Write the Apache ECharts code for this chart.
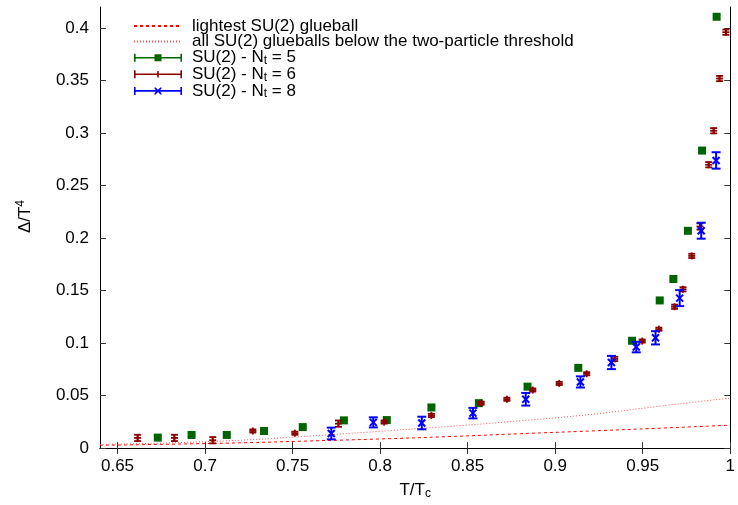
<!DOCTYPE html>
<html>
<head>
<meta charset="utf-8">
<script src="https://cdn.jsdelivr.net/npm/echarts@6/dist/echarts.min.js"></script>
<style>
html, body { margin: 0; padding: 0; background: #fff; }
#main { width: 738px; height: 505px; }
</style>
</head>
<body>
<div id="main"></div>
<script>
// T/Tc, Delta/T^4 and errors
const nt5T = [0.673, 0.6923, 0.7124, 0.7337, 0.7558, 0.7793, 0.8038, 0.8293, 0.8564, 0.8842, 0.9132, 0.9439, 0.9597, 0.9675, 0.9758, 0.9839, 0.9922]
const nt5D = [0.0100, 0.0125, 0.0125, 0.0163, 0.0200, 0.0264, 0.0267, 0.0387, 0.0428, 0.0585, 0.0764, 0.1022, 0.1406, 0.1610, 0.2069, 0.2833, 0.4107]
const nt5E = [0.001, 0.001, 0.001, 0.001, 0.001, 0.001, 0.001, 0.001, 0.001, 0.001, 0.001, 0.001, 0.0012, 0.0012, 0.0015, 0.0015, 0.0015]

const nt6T = [0.6615, 0.6825, 0.7044, 0.7273, 0.7513, 0.7762, 0.8023, 0.8293, 0.8577, 0.8724, 0.8872, 0.9023, 0.918, 0.934, 0.9497, 0.9592, 0.9682, 0.973, 0.978, 0.9827, 0.9877, 0.9905, 0.9939, 0.9975]
const nt6D = [0.0097, 0.0097, 0.0075, 0.0163, 0.0142, 0.0233, 0.0248, 0.0311, 0.0428, 0.0465, 0.0553, 0.0616, 0.0708, 0.0849, 0.1019, 0.1132, 0.1346, 0.1512, 0.1830, 0.2110, 0.2698, 0.3022, 0.3519, 0.3960]
const nt6E = [0.003, 0.003, 0.003, 0.0015, 0.0015, 0.003, 0.0015, 0.0015, 0.0015, 0.0015, 0.0015, 0.0015, 0.0015, 0.002, 0.0015, 0.0015, 0.002, 0.002, 0.002, 0.003, 0.0025, 0.0025, 0.0025, 0.0025]

const nt8T = [0.7721, 0.7961, 0.8238, 0.853, 0.8832, 0.9144, 0.9321, 0.9463, 0.9573, 0.9711, 0.9834, 0.9919]
const nt8D = [0.0139, 0.0245, 0.0239, 0.0333, 0.0465, 0.0630, 0.0815, 0.0962, 0.1050, 0.1428, 0.2070, 0.2739]
const nt8E = [0.0056, 0.0048, 0.006, 0.005, 0.006, 0.0053, 0.0063, 0.005, 0.0063, 0.0076, 0.0076, 0.0078]

// glueball gas curves
const curveT = [0.64, 0.68, 0.72, 0.76, 0.80, 0.84, 0.88, 0.92, 0.96, 1.0]
const lightestD = [0.0027, 0.0037, 0.0050, 0.0068, 0.0087, 0.0110, 0.0137, 0.0163, 0.0190, 0.0218]
const allD = [0.0035, 0.0050, 0.0075, 0.0115, 0.0160, 0.0207, 0.0260, 0.0320, 0.0400, 0.0477]

const xTicks = [0.65, 0.7, 0.75, 0.8, 0.85, 0.9, 0.95, 1]
const yTicks = [0, 0.05, 0.1, 0.15, 0.2, 0.25, 0.3, 0.35, 0.4]

const names = ['lightest SU(2) glueball', 'all SU(2) glueballs below the two-particle threshold', 'nt5', 'nt6', 'nt8']
const ntLabels = { nt5: '5', nt6: '6', nt8: '8' }

const FONT = 'Liberation Sans, Arial, sans-serif'
const GREEN = '#006400'
const DARKRED = '#8b0000'
const BLUE = '#0000ff'

const zip = (t, d, e) => t.map((v, i) => [v, d[i], e[i]])

const seg = (x1, y1, x2, y2, style) => ({ type: 'line', shape: { x1, y1, x2, y2 }, style })

function errorBars (kind) {
  return function (params, api) {
    const x = api.value(0)
    const y = api.value(1)
    const e = api.value(2)
    const c = api.coord([x, y])
    const hi = api.coord([x, y + e])
    const lo = api.coord([x, y - e])
    const color = api.visual('color')
    const st = { stroke: color, lineWidth: kind === 'x' ? 2 : 1.8, fill: null }
    const w = kind === 'x' ? 4.5 : 3.5
    const children = [
      seg(c[0], hi[1], c[0], lo[1], st),
      seg(c[0] - w, hi[1], c[0] + w, hi[1], st),
      seg(c[0] - w, lo[1], c[0] + w, lo[1], st)
    ]
    if (kind === 'star') {
      children.push({ type: 'rect', shape: { x: c[0] - 4, y: c[1] - 4, width: 8, height: 8 }, style: { fill: color } })
    } else if (kind === 'plus') {
      children.push(seg(c[0] - 3.5, c[1], c[0] + 3.5, c[1], st))
      children.push(seg(c[0], c[1] - 3.5, c[0], c[1] + 3.5, st))
    } else {
      children.push(seg(c[0] - 3.5, c[1] - 3.5, c[0] + 3.5, c[1] + 3.5, st))
      children.push(seg(c[0] - 3.5, c[1] + 3.5, c[0] + 3.5, c[1] - 3.5, st))
    }
    return { type: 'group', children }
  }
}

const barIcon = 'M0,3.2L48,3.2L48,4.8L0,4.8Z M0,0L1.6,0L1.6,8L0,8Z M46.4,0L48,0L48,8L46.4,8Z'
const icons = {
  nt5: 'path://' + barIcon + ' M20.5,0.5L27.5,0.5L27.5,7.5L20.5,7.5Z',
  nt6: 'path://' + barIcon + ' M23.2,0.8L24.8,0.8L24.8,7.2L23.2,7.2Z',
  nt8: 'path://' + barIcon + ' M20.5,0.5L21.7,0.5L24,2.8L26.3,0.5L27.5,0.5L27.5,1.7L25.2,4L27.5,6.3L27.5,7.5L26.3,7.5L24,5.2L21.7,7.5L20.5,7.5L20.5,6.3L22.8,4L20.5,1.7Z'
}

const fmt = v => String(+v.toFixed(2))

const myChart = echarts.init(document.getElementById('main'))

const axisCommon = {
  type: 'value',
  axisLine: { show: true, lineStyle: { color: '#000', width: 1 } },
  axisTick: { show: true, inside: true, length: 6, lineStyle: { color: '#333' } },
  splitLine: { show: false }
}

myChart.setOption({
  animation: false,
  textStyle: { fontFamily: FONT },
  grid: { left: 100, right: 3, top: 7, bottom: 53 },
  legend: {
    orient: 'vertical',
    left: 133,
    top: 17.5,
    padding: 0,
    itemWidth: 48,
    itemHeight: 8,
    itemGap: -1.4,
    selectedMode: false,
    textStyle: {
      fontFamily: FONT,
      fontSize: 17,
      color: '#000',
      lineHeight: 16,
      padding: [0, 0, 0, 5],
      rich: {
        a: { fontFamily: FONT, fontSize: 17, lineHeight: 16, color: '#000' },
        sub: { fontFamily: FONT, fontSize: 12, lineHeight: 10, padding: [6, 0, 0, 0], color: '#000' }
      }
    },
    formatter: name => ntLabels[name] ? `{a|SU(2) - N}{sub|t}{a| = ${ntLabels[name]}}` : name,
    data: [
      { name: names[0], itemStyle: { opacity: 0 } },
      { name: names[1], itemStyle: { opacity: 0 } },
      { name: 'nt5', icon: icons.nt5 },
      { name: 'nt6', icon: icons.nt6 },
      { name: 'nt8', icon: icons.nt8 }
    ]
  },
  xAxis: [{
    ...axisCommon,
    position: 'bottom',
    min: 0.64,
    max: 1,
    axisTick: { ...axisCommon.axisTick, customValues: xTicks },
    axisLabel: { customValues: xTicks, formatter: fmt, color: '#000', fontSize: 17, margin: 10, fontFamily: FONT },
    name: '{a|T/T}{sub|c}',
    nameLocation: 'middle',
    nameGap: 31,
    nameTextStyle: {
      rich: {
        a: { fontFamily: FONT, fontSize: 17, color: '#000', lineHeight: 18 },
        sub: { fontFamily: FONT, fontSize: 12, color: '#000', lineHeight: 12, padding: [8, 0, 0, 0] }
      }
    }
  }, {
    ...axisCommon,
    position: 'top',
    min: 0.64,
    max: 1,
    axisTick: { ...axisCommon.axisTick, customValues: xTicks },
    axisLabel: { show: false }
  }],
  yAxis: [{
    ...axisCommon,
    position: 'left',
    min: 0,
    max: 0.42,
    axisTick: { ...axisCommon.axisTick, customValues: yTicks },
    axisLabel: { customValues: yTicks, formatter: fmt, color: '#000', fontSize: 17, margin: 11, fontFamily: FONT },
    name: '{a|Δ/T}{sup|4}',
    nameLocation: 'middle',
    nameGap: 66,
    nameTextStyle: {
      padding: [0, 0, 0, 22],
      rich: {
        a: { fontFamily: FONT, fontSize: 17, color: '#000', lineHeight: 18 },
        sup: { fontFamily: FONT, fontSize: 12, color: '#000', lineHeight: 12, padding: [0, 0, 8, 0] }
      }
    }
  }, {
    ...axisCommon,
    position: 'right',
    min: 0,
    max: 0.42,
    axisTick: { ...axisCommon.axisTick, customValues: yTicks },
    axisLabel: { show: false }
  }],
  series: [{
    name: names[0],
    type: 'line',
    data: curveT.map((t, i) => [t, lightestD[i]]),
    smooth: true,
    symbol: 'none',
    color: '#ff0000',
    lineStyle: { color: '#ff0000', width: 1, type: [3, 3] },
    z: 1
  }, {
    name: names[1],
    type: 'line',
    data: curveT.map((t, i) => [t, allD[i]]),
    smooth: true,
    symbol: 'none',
    color: '#ff5050',
    lineStyle: { color: '#ff5050', width: 1, type: [1, 2] },
    z: 1
  }, {
    name: 'nt5',
    type: 'custom',
    renderItem: errorBars('star'),
    data: zip(nt5T, nt5D, nt5E),
    encode: { x: 0, y: 1 },
    itemStyle: { color: GREEN },
    clip: true,
    z: 3
  }, {
    name: 'nt6',
    type: 'custom',
    renderItem: errorBars('plus'),
    data: zip(nt6T, nt6D, nt6E),
    encode: { x: 0, y: 1 },
    itemStyle: { color: DARKRED },
    clip: true,
    z: 4
  }, {
    name: 'nt8',
    type: 'custom',
    renderItem: errorBars('x'),
    data: zip(nt8T, nt8D, nt8E),
    encode: { x: 0, y: 1 },
    itemStyle: { color: BLUE },
    clip: true,
    z: 5
  }]
})
</script>
</body>
</html>
